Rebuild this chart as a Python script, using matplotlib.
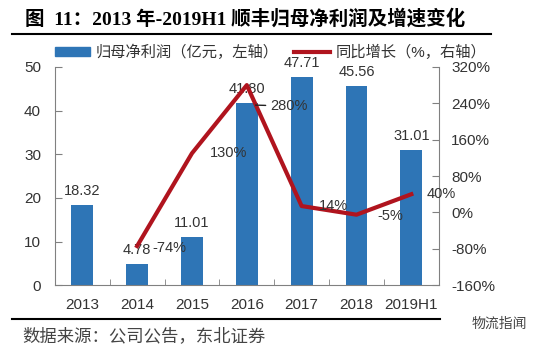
import matplotlib
matplotlib.use("Agg")
import matplotlib.pyplot as plt
from matplotlib.lines import Line2D
from matplotlib.patches import Patch

plt.rcParams['font.family'] = ['Liberation Sans', 'Noto Sans CJK SC', 'DejaVu Sans']

# --- данные ---
years = ['2013', '2014', '2015', '2016', '2017', '2018', '2019H1']
profit = [18.32, 4.78, 11.01, 41.80, 47.71, 45.56, 31.01]
growth_years = ['2014', '2015', '2016', '2017', '2018', '2019H1']
growth = [-74, 130, 280, 14, -5, 40]
growth_labels = ['-74%', '130%', '280%', '14%', '-5%', '40%']

BAR_COLOR = '#2E75B6'
LINE_COLOR = '#B0141E'
TXT = '#333333'

fig = plt.figure(figsize=(5.43, 3.56), dpi=100)
ax = fig.add_axes([0.101, 0.199, 0.707, 0.613])
ax2 = ax.twinx()

x = list(range(len(years)))
ax.bar(x, profit, width=0.4, color=BAR_COLOR, zorder=2)
for xi, v in zip(x, profit):
    ax.text(xi, v + 1.6, f'{v:.2f}', ha='center', va='bottom', fontsize=10.5, color=TXT)

gx = [years.index(y) for y in growth_years]
ax2.plot(gx, growth, color=LINE_COLOR, lw=3, zorder=3)
# смещения подписей (dx в категориях, dy в %)
offsets = [(0.27, -4), (0.33, 0), (0.42, -46), (0.31, 0), (0.38, -2), (0.27, 0)]
for xi, v, lab, (dx, dy) in zip(gx, growth, growth_labels, offsets):
    if lab == '280%':
        ax2.annotate(lab, xy=(xi + 0.16, v - 44), xytext=(xi + dx, v + dy),
                     ha='left', va='center', fontsize=10.5, color=TXT,
                     arrowprops=dict(arrowstyle='-', color='#222222', lw=1,
                                     shrinkA=1, shrinkB=0))
    else:
        ax2.text(xi + dx, v + dy, lab, ha='left', va='center', fontsize=10.5, color=TXT)

ax.set_xlim(-0.5, len(years) - 0.5)
ax.set_ylim(0, 50)
ax.set_yticks(range(0, 51, 10))
ax2.set_ylim(-160, 320)
ax2.set_yticks(range(-160, 321, 80))
ax2.set_yticklabels([f'{t}%' for t in range(-160, 321, 80)])
ax.set_xticks(x)
ax.set_xticklabels(years)
ax.set_xticks([i + 0.5 for i in x[:-1]], minor=True)

for a in (ax, ax2):
    a.spines['top'].set_visible(False)
    for s in ('left', 'right', 'bottom'):
        a.spines[s].set_color('#808080')
ax.spines['right'].set_visible(False)
ax2.spines['left'].set_visible(False)
ax2.spines['bottom'].set_visible(False)
ax.tick_params(axis='y', direction='in', length=5, color='#808080', pad=10,
               labelsize=11, labelcolor=TXT)
ax2.tick_params(axis='y', direction='in', length=5, color='#808080', pad=9,
                labelsize=11, labelcolor=TXT)
ax.tick_params(axis='x', which='major', length=0, pad=9.5, labelsize=11, labelcolor=TXT)
ax.tick_params(axis='x', which='minor', direction='in', length=4, color='#808080')
ax2.set_zorder(ax.get_zorder() + 1)
ax2.patch.set_visible(False)

# легенда
handles = [Patch(color=BAR_COLOR), Line2D([0], [0], color=LINE_COLOR, lw=3)]
fig.legend(handles, ['归母净利润（亿元，左轴）', '同比增长（%，右轴）'], loc='center left',
           bbox_to_anchor=(0.101, 0.854), ncol=2, frameon=False, fontsize=11,
           borderpad=0, borderaxespad=0, handlelength=2.3, handleheight=0.5,
           handletextpad=0.4, columnspacing=1.0, labelcolor=TXT)

# заголовок, линии, источник
fig.text(0.046, 0.947, '图  11：2013 年-2019H1 顺丰归母净利润及增速变化', fontsize=14,
         fontweight='bold', family=['Liberation Serif', 'Noto Sans CJK SC'], va='center')
fig.add_artist(Line2D([0.022, 0.905], [0.905, 0.905], color='black', lw=1.5))
fig.add_artist(Line2D([0.022, 0.81], [0.105, 0.105], color='black', lw=1.5))
fig.text(0.042, 0.056, '数据来源：公司公告，东北证券', fontsize=12.5, color='#444444',
         family=['Noto Sans CJK SC'], fontweight='light', va='center')
fig.text(0.868, 0.09, '物流指闻', fontsize=10, color='#444444',
         family=['Noto Sans CJK SC'], va='center')

fig.savefig('out.png', dpi=100, facecolor='white')
